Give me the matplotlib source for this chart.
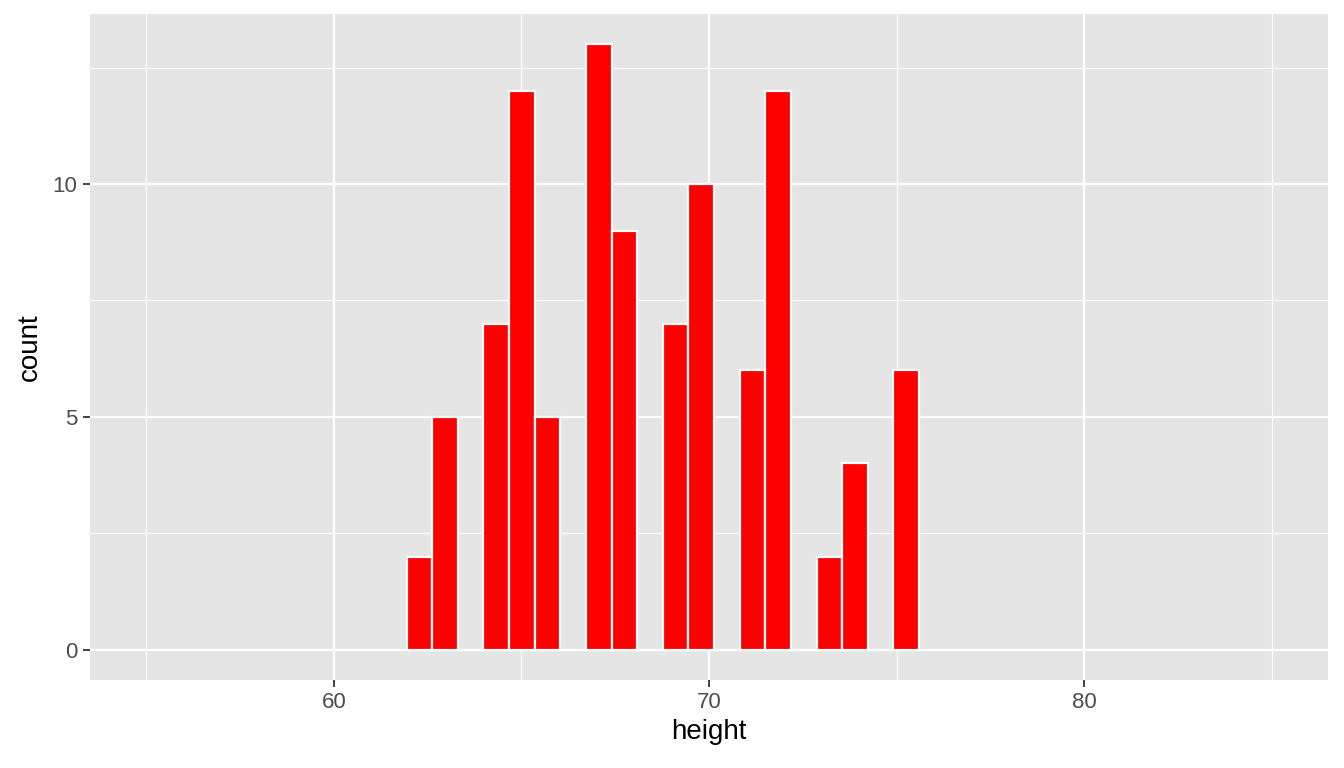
import numpy as np
import matplotlib.pyplot as plt

plt.rcParams['font.family'] = ['Liberation Sans', 'DejaVu Sans']

# histogram bins (20 bins, ~0.683 wide)
bin_edges = np.linspace(61.94, 75.6, 21)
counts = [2, 5, 0, 7, 12, 5, 0, 13, 9, 0, 7, 10, 0, 6, 12, 0, 2, 4, 0, 6]

x_limits = (55, 85)
x_major = [60, 70, 80]
x_minor = [55, 65, 75, 85]
y_major = [0, 5, 10]
y_minor = [2.5, 7.5, 12.5]

fig = plt.figure(figsize=(13.44, 7.68), dpi=100)
ax = fig.add_axes([90 / 1344, 1 - 680 / 768, (1328 - 90) / 1344, (680 - 14) / 768])
ax.set_facecolor("#E5E5E5")

ax.bar(bin_edges[:-1], counts, width=np.diff(bin_edges), align="edge",
       color="#FF0000", edgecolor="white", linewidth=1.6, zorder=3)

# ggplot-like expansion
xspan = x_limits[1] - x_limits[0]
ax.set_xlim(x_limits[0] - 0.05 * xspan, x_limits[1] + 0.05 * xspan)
ymax = max(counts)
ax.set_ylim(-0.05 * ymax, ymax * 1.05)

ax.set_xticks(x_major)
ax.set_xticks(x_minor, minor=True)
ax.set_yticks(y_major)
ax.set_yticks(y_minor, minor=True)

ax.grid(which="major", color="white", linewidth=1.6, zorder=0)
ax.grid(which="minor", color="white", linewidth=0.8, zorder=0)
ax.set_axisbelow(True)

for s in ax.spines.values():
    s.set_visible(False)

ax.tick_params(which="major", length=5, width=1.3, color="#333333",
               labelsize=16, labelcolor="#4D4D4D", pad=4)
ax.tick_params(which="minor", length=0)

ax.set_xlabel("height", fontsize=20, color="black", labelpad=4)
ax.set_ylabel("count", fontsize=20, color="black", labelpad=7)

fig.savefig("out.png", dpi=100, facecolor="white")
